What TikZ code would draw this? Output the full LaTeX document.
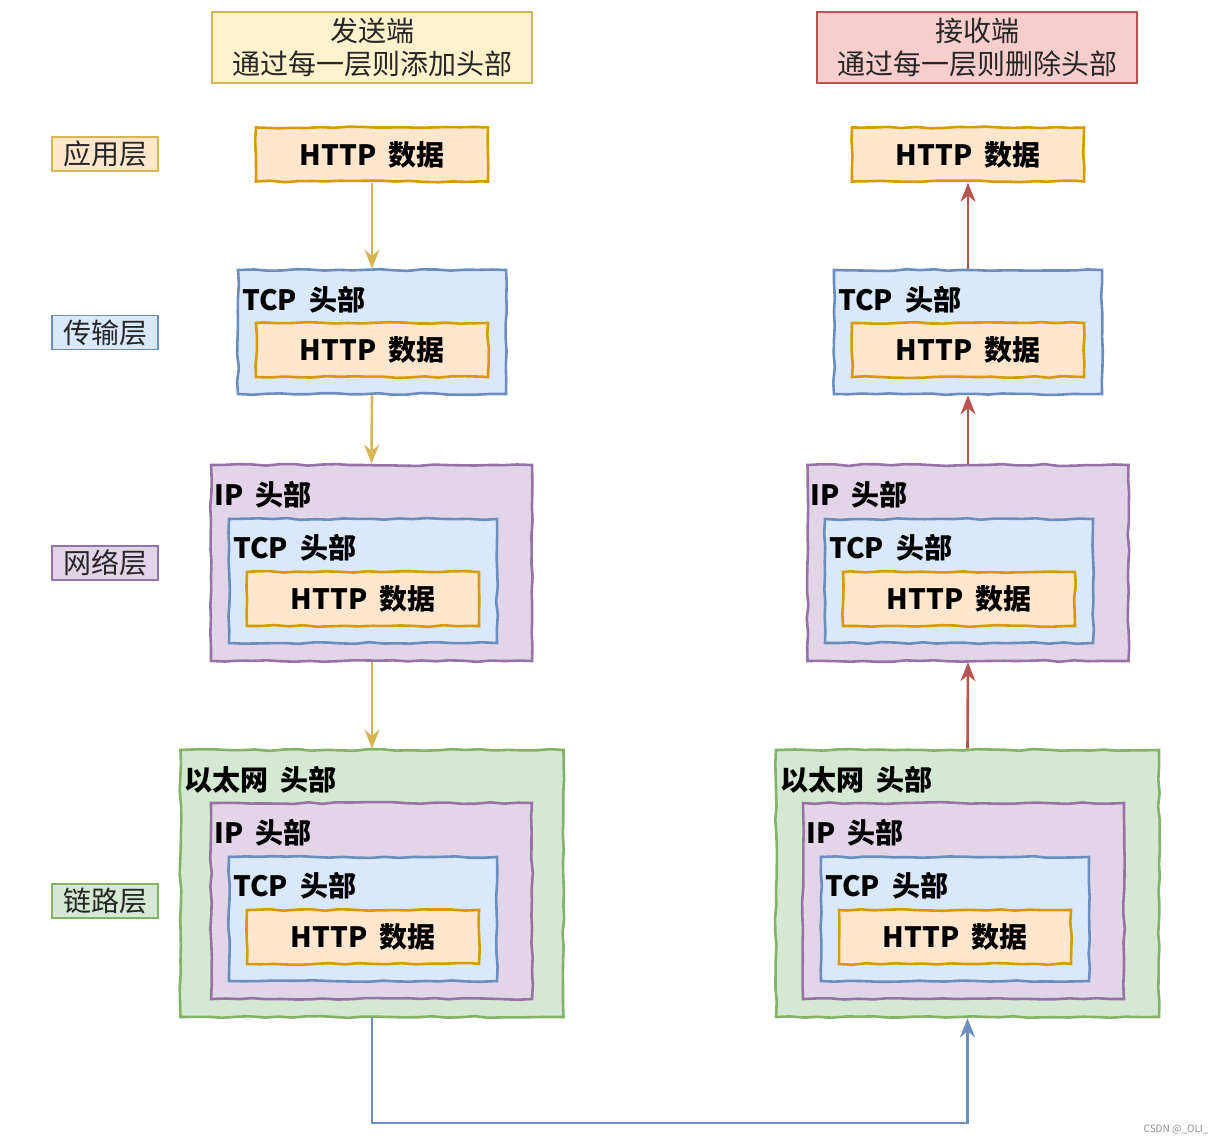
\documentclass[tikz,border=0pt]{standalone}
\usepackage{fontspec}
\setmainfont{Noto Sans CJK SC}
\usetikzlibrary{arrows.meta,decorations.pathmorphing}
\definecolor{ylwF}{HTML}{FFF2CC}\definecolor{ylwD}{HTML}{D6B656}
\definecolor{orgF}{HTML}{FFE6CC}\definecolor{orgD}{HTML}{D79B00}
\definecolor{bluF}{HTML}{DAE8FC}\definecolor{bluD}{HTML}{6C8EBF}
\definecolor{purF}{HTML}{E1D5E7}\definecolor{purD}{HTML}{9673A6}
\definecolor{grnF}{HTML}{D5E8D4}\definecolor{grnD}{HTML}{82B366}
\definecolor{redF}{HTML}{F8CECC}\definecolor{redD}{HTML}{B85450}
\newcommand{\wsp}{\hspace{12pt}}
\tikzset{
  sketch/.style={decorate,decoration={random steps,segment length=14pt,amplitude=0.9pt}},
  box/.style={sketch,line width=2.6pt,inner sep=0pt,minimum width=#1},
  httpbox/.style={box=232pt,minimum height=54pt,draw=orgD,fill=orgF,font=\fontsize{28}{30}\selectfont\bfseries},
  tcpbox/.style={box=268pt,minimum height=124pt,draw=bluD,fill=bluF},
  ipbox/.style={box=321pt,minimum height=196pt,draw=purD,fill=purF},
  ethbox/.style={box=383pt,minimum height=267pt,draw=grnD,fill=grnF},
  hdr/.style={anchor=west,inner sep=0pt,font=\fontsize{28}{30}\selectfont\bfseries},
  layer/.style={line width=1.4pt,minimum width=106pt,minimum height=34pt,inner sep=0pt,font=\fontsize{28}{30}\selectfont,text=black!85},
  titlebox/.style={line width=1.4pt,minimum width=320pt,minimum height=71pt,inner sep=0pt,align=center,font=\fontsize{28}{33}\selectfont,text=black!85},
  arr/.style={line width=2.6pt,-{Stealth[length=19pt,width=15pt]}},
}
\begin{document}
\begin{tikzpicture}[x=1pt,y=-1pt]
\useasboundingbox (0,0) rectangle (1226,1145);
% titles
\node[titlebox,draw=ylwD,fill=ylwF] (tl) at (372,47.5) {发送端\\通过每一层则添加头部};
\node[titlebox,draw=redD,fill=redF] (tr) at (977,47.5) {接收端\\通过每一层则删除头部};
% layer labels
\node[layer,draw=ylwD,fill=orgF] (l1) at (105,154) {应用层};
\node[layer,draw=bluD,fill=bluF] (l2) at (105,332.5) {传输层};
\node[layer,draw=purD,fill=purF] (l3) at (105,563) {网络层};
\node[layer,draw=grnD,fill=grnF] (l4) at (105,901) {链路层};
% ---------- left column ----------
\node[httpbox] (h1) at (372,154.5) {HTTP\wsp 数据};
\node[tcpbox] (t2) at (372,332) {};
\node[hdr] (t2l) at (242,300) {TCP\wsp 头部};
\node[httpbox] (h2) at (372,350) {HTTP\wsp 数据};
\node[ipbox] (i3) at (371.5,563) {};
\node[hdr] (i3l) at (214,495) {IP\wsp 头部};
\node[tcpbox] (t3) at (363,581) {};
\node[hdr] (t3l) at (233,548) {TCP\wsp 头部};
\node[httpbox] (h3) at (363,599) {HTTP\wsp 数据};
\node[ethbox] (e4) at (372,883.5) {};
\node[hdr] (e4l) at (184,780) {以太网\wsp 头部};
\node[ipbox] (i4) at (371.5,901) {};
\node[hdr] (i4l) at (214,833) {IP\wsp 头部};
\node[tcpbox] (t4) at (363,919) {};
\node[hdr] (t4l) at (233,886) {TCP\wsp 头部};
\node[httpbox] (h4) at (363,937) {HTTP\wsp 数据};
% ---------- right column ----------
\node[httpbox] (h1r) at (968,154.5) {HTTP\wsp 数据};
\node[tcpbox] (t2r) at (968,332) {};
\node[hdr] (t2rl) at (838,300) {TCP\wsp 头部};
\node[httpbox] (h2r) at (968,350) {HTTP\wsp 数据};
\node[ipbox] (i3r) at (968,563) {};
\node[hdr] (i3rl) at (810,495) {IP\wsp 头部};
\node[tcpbox] (t3r) at (959,581) {};
\node[hdr] (t3rl) at (829,548) {TCP\wsp 头部};
\node[httpbox] (h3r) at (959,599) {HTTP\wsp 数据};
\node[ethbox] (e4r) at (967.5,883.5) {};
\node[hdr] (e4rl) at (780,780) {以太网\wsp 头部};
\node[ipbox] (i4r) at (963.5,901) {};
\node[hdr] (i4rl) at (806,833) {IP\wsp 头部};
\node[tcpbox] (t4r) at (955,919) {};
\node[hdr] (t4rl) at (825,886) {TCP\wsp 头部};
\node[httpbox] (h4r) at (955,937) {HTTP\wsp 数据};
% ---------- arrows ----------
\draw[arr,draw=ylwD] (h1.south) -- (t2.north);
\draw[arr,draw=ylwD] (t2.south) -- (i3.north);
\draw[arr,draw=ylwD] (i3.south -| t2.south) -- (e4.north);
\draw[arr,draw=redD] (t2r.north) -- (h1r.south);
\draw[arr,draw=redD] (i3r.north) -- (t2r.south);
\draw[arr,draw=redD] (e4r.north) -- (i3r.south);
\coordinate (bot) at (670,1123);
\draw[arr,draw=bluD] (e4.south) |- (bot) -| (e4r.south);
% watermark
\node[font=\fontsize{10}{12}\selectfont,text=black!45,anchor=east] (wm) at (1212,1130) {CSDN @\_OLI\_};
\end{tikzpicture}
\end{document}
